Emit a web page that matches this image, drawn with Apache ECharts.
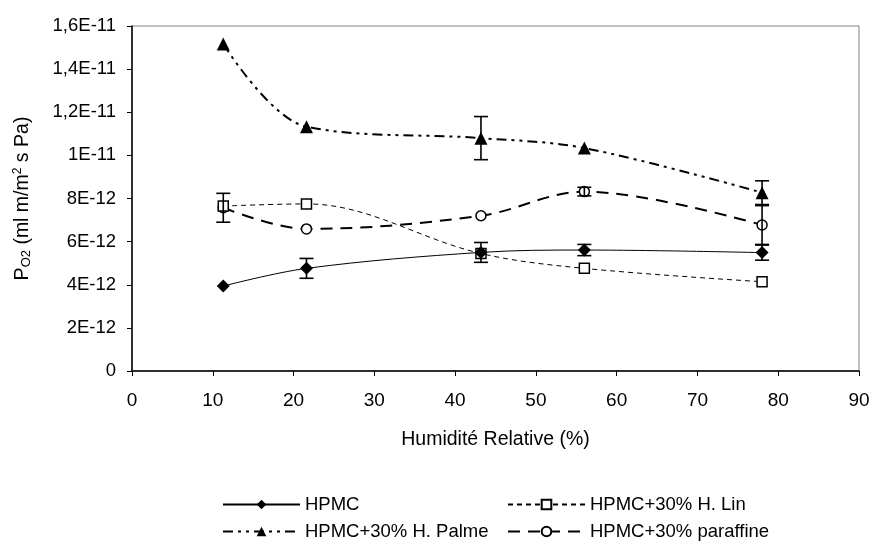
<!DOCTYPE html>
<html><head><meta charset="utf-8">
<script src="https://cdn.jsdelivr.net/npm/echarts@6/dist/echarts.min.js"></script>
<style>html,body{margin:0;padding:0;background:#fff}#c{width:873px;height:546px}</style>
</head><body><div id="c"></div>
<script>
const humidity = [11.3, 21.6, 43.2, 56.0, 78.0];
const hpmc      = [3.94e-12, 4.76e-12, 5.5e-12, 5.61e-12, 5.49e-12];
const hpmcErr   = [0, 0.46e-12, 0.46e-12, 0.26e-12, 0.35e-12];
const lin       = [7.65e-12, 7.75e-12, 5.45e-12, 4.76e-12, 4.14e-12];
const linErr    = [0, 0, 0, 0, 0];
const palme     = [15.17e-12, 11.33e-12, 10.8e-12, 10.34e-12, 8.27e-12];
const palmeErr  = [0, 0, 1.0e-12, 0, 0.55e-12];
const paraffine = [7.57e-12, 6.59e-12, 7.2e-12, 8.32e-12, 6.77e-12];
const paraffineErr = [0.67e-12, 0, 0, 0.2e-12, 0.9e-12];
const yTickLabels = ['0','2E-12','4E-12','6E-12','8E-12','1E-11','1,2E-11','1,4E-11','1,6E-11'];
const names = ['HPMC','HPMC+30% H. Lin','HPMC+30% H. Palme','HPMC+30% paraffine'];

const F = 'Liberation Sans, Arial, sans-serif';
function pts(vals){ return humidity.map((x,i)=>[x, vals[i]]); }
function errData(vals, errs){
  const out=[]; humidity.forEach((x,i)=>{ if(errs[i]>0) out.push([x, vals[i]-errs[i], vals[i]+errs[i]]); }); return out;
}
function errSeries(vals, errs){
  return {
    type:'custom', silent:true, z:5,
    data: errData(vals, errs),
    encode:{x:0, y:[1,2]},
    renderItem:function(params, api){
      const x = api.value(0);
      const lo = api.coord([x, api.value(1)]);
      const hi = api.coord([x, api.value(2)]);
      const w = 7;
      const st = {stroke:'#000', lineWidth:1.6};
      return {type:'group', children:[
        {type:'line', shape:{x1:lo[0], y1:lo[1], x2:hi[0], y2:hi[1]}, style:st},
        {type:'line', shape:{x1:lo[0]-w, y1:lo[1], x2:lo[0]+w, y2:lo[1]}, style:st},
        {type:'line', shape:{x1:hi[0]-w, y1:hi[1], x2:hi[0]+w, y2:hi[1]}, style:st}
      ]};
    }
  };
}
const legendText = {color:'#000', fontFamily:F, fontSize:18.5};
const chart = echarts.init(document.getElementById('c'));
chart.setOption({
  backgroundColor:'#fff',
  animation:false,
  grid:{left:132, right:14, top:26, bottom:175, show:true, borderColor:'#808080', borderWidth:1},
  xAxis:{
    type:'value', min:0, max:90, interval:10,
    axisLine:{lineStyle:{color:'#000', width:1.5}},
    axisTick:{show:true, inside:false, length:5, lineStyle:{color:'#000'}},
    axisLabel:{color:'#000', fontFamily:F, fontSize:19, margin:20},
    splitLine:{show:false},
    name:'Humidité Relative (%)', nameLocation:'middle', nameGap:59,
    nameTextStyle:{color:'#000', fontFamily:F, fontSize:19.5}
  },
  yAxis:{
    type:'value', min:0, max:1.6e-11, interval:2e-12,
    axisLine:{show:true, lineStyle:{color:'#000', width:1.5}},
    axisTick:{show:true, inside:false, length:5, lineStyle:{color:'#000'}},
    axisLabel:{color:'#000', fontFamily:F, fontSize:18.5, margin:16,
      formatter:function(v){ return yTickLabels[Math.round(v/2e-12)]; }},
    splitLine:{show:false},
    name:'{n|P}{sub|O2}{n| (ml m/m}{sup|2}{n| s Pa)}', nameLocation:'middle', nameRotate:90, nameGap:99,
    nameTextStyle:{color:'#000', fontFamily:F, fontSize:19.5,
      rich:{n:{fontFamily:F, fontSize:19.5, color:'#000'},
            sub:{fontFamily:F, fontSize:13, color:'#000', verticalAlign:'bottom', padding:[8,0,0,0]},
            sup:{fontFamily:F, fontSize:12, color:'#000', verticalAlign:'top', padding:[0,0,8,0]}}}
  },
  legend:[
    {data:[names[0], names[2]], orient:'vertical', left:217, top:490, itemWidth:77, itemHeight:12, itemGap:8,
     textStyle:legendText, selectedMode:false},
    {data:[names[1], names[3]], orient:'vertical', left:502, top:490, itemWidth:77, itemHeight:12, itemGap:8,
     textStyle:legendText, selectedMode:false}
  ],
  series:[
    {name:names[2], type:'line', data:pts(palme), smooth:0.35, symbol:'triangle', symbolSize:13,
     itemStyle:{color:'#000'}, lineStyle:{color:'#000', width:2, type:[10,5,3,5,3,5]}, z:3},
    {name:names[3], type:'line', data:pts(paraffine), smooth:0.35, symbol:'circle', symbolSize:10,
     itemStyle:{color:'#fff', borderColor:'#000', borderWidth:1.5}, lineStyle:{color:'#000', width:2, type:[12,8]}, z:3},
    {name:names[1], type:'line', data:pts(lin), smooth:0.35, symbol:'rect', symbolSize:10,
     itemStyle:{color:'#fff', borderColor:'#000', borderWidth:1.5}, lineStyle:{color:'#000', width:1, type:[5,4]}, z:3},
    {name:names[0], type:'line', data:pts(hpmc), smooth:0.35, symbol:'diamond', symbolSize:13,
     itemStyle:{color:'#000'}, lineStyle:{color:'#000', width:1}, z:3},
    errSeries(hpmc, hpmcErr),
    errSeries(palme, palmeErr),
    errSeries(paraffine, paraffineErr),
    errSeries(lin, linErr)
  ]
});
</script></body></html>
